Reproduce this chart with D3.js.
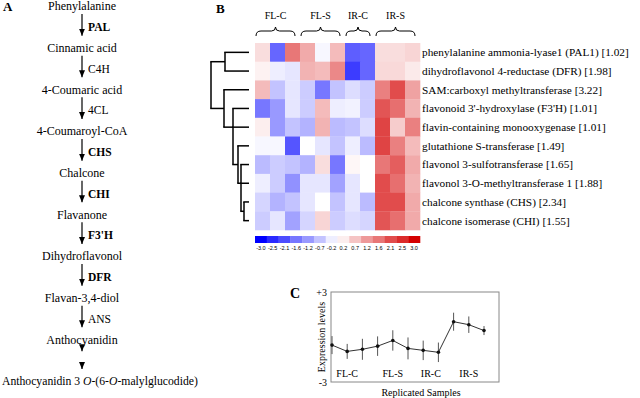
<!DOCTYPE html>
<html>
<head>
<meta charset="utf-8">
<script src="https://cdn.jsdelivr.net/npm/d3@7"></script>
<style>
  body { margin: 0; background: #fff; }
  svg { display: block; }
</style>
</head>
<body>
<div id="fig"></div>
<script>
// ---- panel A: pathway
const compounds = ["Phenylalanine", "Cinnamic acid", "4-Coumaric acid", "4-Coumaroyl-CoA", "Chalcone",
  "Flavanone", "Dihydroflavonol", "Flavan-3,4-diol", "Anthocyanidin", "Anthocyanidin 3 O-(6-O-malylglucodide)"];
const enzymes = ["PAL", "C4H", "4CL", "CHS", "CHI", "F3'H", "DFR", "ANS", ""];
const enzymeBold = [true, false, false, true, true, true, true, false, false];
const arrowsPerStep = [1, 1, 1, 1, 1, 1, 1, 1, 2];

// ---- panel B: heatmap
const genes = ["phenylalanine ammonia-lyase1 (PAL1)", "dihydroflavonol 4-reductase (DFR)",
  "SAM:carboxyl methyltransferase", "flavonoid 3'-hydroxylase (F3'H)", "flavin-containing monooxygenase",
  "glutathione S-transferase", "flavonol 3-sulfotransferase", "flavonol 3-O-methyltransferase 1",
  "chalcone synthase (CHS)", "chalcone isomerase (CHI)"];
const foldChange = ["1.02", "1.98", "3.22", "1.01", "1.01", "1.49", "1.65", "1.88", "2.34", "1.55"];
const groups = ["FL-C", "FL-S", "IR-C", "IR-S"];
const groupReps = [3, 3, 2, 3];

const rowPAL   = [0.4, -1.8, 1.6, 1.0, -0.1, 0.8, -1.9, -1.8, 0.4, 0.4, 0.5];
const rowDFR   = [0.15, -0.2, -0.3, 0.9, 0.8, 1.4, -2.3, -1.8, 0.45, 0.45, 0.25];
const rowSAM   = [0.8, -0.7, -0.3, -0.6, -1.6, -0.7, -0.4, -0.6, 1.5, 2.1, 1.1];
const rowF3H   = [-1.6, -1.2, -0.3, -0.6, 0.8, -0.2, -0.15, -0.6, 2.0, 1.7, 0.9];
const rowFMO   = [0.2, -1.2, -0.7, -0.9, 0.9, -0.8, -0.7, -0.4, 2.2, 0.6, 1.5];
const rowGST   = [-0.1, -0.1, -2.0, 0.0, -0.3, -0.7, -0.2, -0.8, 2.2, 1.5, 0.8];
const rowSULF  = [-0.8, -0.6, -0.7, -0.9, 0.4, -1.6, 0.1, 0.0, 1.6, 1.9, 1.0];
const rowOMT   = [-0.2, -0.6, -1.3, -0.3, -0.3, -1.1, -0.3, 0.0, 2.1, 1.7, 0.9];
const rowCHS   = [-0.5, -0.9, -0.7, -0.3, 0.0, -0.7, -0.3, -0.8, 2.1, 2.1, 1.0];
const rowCHI   = [-0.6, -0.3, -1.1, -0.5, 0.5, -0.6, -0.4, -0.5, 2.0, 1.7, 1.0];
const heatRows = [rowPAL, rowDFR, rowSAM, rowF3H, rowFMO, rowGST, rowSULF, rowOMT, rowCHS, rowCHI];

const legendTicks = [-3.0, -2.5, -2.1, -1.6, -1.2, -0.7, -0.2, 0.2, 0.7, 1.2, 1.6, 2.1, 2.5, 3.0];

// row dendrogram (leaves = gene index, h = merge height)
const dendro = { h: 38, c: [
  { h: 24, c: [0, 1] },
  { h: 25, c: [2, { h: 16, c: [3, 4, { h: 11, c: [5, { h: 8, c: [6, 7, { h: 5, c: [8, 9] }] }] }] }] }
] };

// ---- panel C: profile
const profileMean = [-0.54, -0.96, -0.82, -0.61, -0.23, -0.76, -0.89, -1.02, 1.02, 0.82, 0.43];
const profileErr  = [0.6, 0.5, 0.7, 0.65, 0.68, 0.73, 0.65, 0.65, 0.6, 0.55, 0.3];

const serif = "'Liberation Serif', 'Times New Roman', serif";

const svg = d3.select("#fig").append("svg")
  .attr("width", 640).attr("height", 398)
  .style("font-family", serif);

svg.append("defs").append("marker")
  .attr("id", "head")
  .attr("viewBox", "0 0 6 7").attr("refX", 3).attr("refY", 7)
  .attr("markerWidth", 6).attr("markerHeight", 7)
  .attr("markerUnits", "userSpaceOnUse")
  .attr("orient", "0")
  .append("path").attr("d", "M0,0 L6,0 L3,7 Z").attr("fill", "#000");

// shrink/grow a text so it spans a given width
function fitWidth(sel, target) {
  const w = sel.node().getComputedTextLength();
  const fs = +sel.attr("font-size");
  if (w > 0) sel.attr("font-size", fs * target / w);
  return fs * target / w;
}

// ================= A =================
const gA = svg.append("g");
gA.append("text").attr("x", 3).attr("y", 11).attr("font-weight", "bold").attr("font-size", 13).text("A");

const cx = 82;
const yA = d3.scalePoint().domain(d3.range(compounds.length)).range([6, 381]);
const last = compounds.length - 1;

compounds.forEach((name, i) => {
  const t = gA.append("text")
    .attr("x", i === last ? 2 : cx).attr("y", yA(i)).attr("dy", "0.35em")
    .attr("text-anchor", i === last ? "start" : "middle").attr("font-size", 12);
  name.split(/(O(?=-))/).forEach(part => {
    if (!part) return;
    t.append("tspan").attr("font-style", part === "O" ? "italic" : null).text(part);
  });
  if (i === last) fitWidth(t, 196);
});

enzymes.forEach((e, i) => {
  const n = arrowsPerStep[i];
  const y0 = yA(i) + 8, y1 = yA(i + 1) - 5;
  const gap = 7;
  const len = (y1 - y0 - gap * (n - 1)) / n;
  for (let k = 0; k < n; k++) {
    const a = y0 + k * (len + gap);
    gA.append("line").attr("x1", cx).attr("x2", cx).attr("y1", a).attr("y2", a + len - 7)
      .attr("stroke", "#000").attr("stroke-width", 1.2).attr("marker-end", "url(#head)");
  }
  if (e) {
    gA.append("text").attr("x", cx + 6).attr("y", (yA(i) + yA(i + 1)) / 2).attr("dy", "0.35em")
      .attr("font-size", 11.5).attr("font-weight", enzymeBold[i] ? "bold" : null).text(e);
  }
});

// ================= B =================
const gB = svg.append("g");
gB.append("text").attr("x", 216).attr("y", 13).attr("font-weight", "bold").attr("font-size", 13).text("B");

const nCols = d3.sum(groupReps);
const xH = d3.scaleBand().domain(d3.range(nCols)).range([255, 420]);
const yH = d3.scaleBand().domain(d3.range(genes.length)).range([43, 230]);
const color = d3.scaleLinear().domain([-3, 0, 3]).range(["#0000ff", "#ffffff", "#d40000"]).clamp(true);

heatRows.forEach((row, r) => {
  gB.selectAll(null).data(row).join("rect")
    .attr("x", (d, c) => xH(c)).attr("y", yH(r))
    .attr("width", xH.bandwidth() + 0.3).attr("height", yH.bandwidth() + 0.3)
    .attr("fill", d => color(d));
});

const geneLabels = gB.selectAll(".gene").data(genes).join("text")
  .attr("class", "gene")
  .attr("x", 422).attr("y", (d, i) => yH(i) + yH.bandwidth() / 2).attr("dy", "0.35em")
  .attr("font-size", 11)
  .text((d, i) => `${d} [${foldChange[i]}]`);
// the first label reaches x ~630 in the figure
const geneFs = fitWidth(geneLabels.filter((d, i) => i === 0), 207);
geneLabels.attr("font-size", geneFs);

// group braces
let start = 0;
groups.forEach((g, gi) => {
  const x0 = xH(start) + 1;
  const x1 = xH(start + groupReps[gi] - 1) + xH.bandwidth() - 5;
  const m = (x0 + x1) / 2;
  const yb = 31;
  gB.append("path")
    .attr("d", `M${x0},${yb + 5} Q${x0},${yb} ${x0 + 5},${yb} L${m - 4},${yb} Q${m},${yb} ${m},${yb - 4} Q${m},${yb} ${m + 4},${yb} L${x1 - 5},${yb} Q${x1},${yb} ${x1},${yb + 5}`)
    .attr("fill", "none").attr("stroke", "#000").attr("stroke-width", 1);
  gB.append("text").attr("x", m).attr("y", 19).attr("text-anchor", "middle").attr("font-size", 10).text(g);
  start += groupReps[gi];
});

// dendrogram
const xD = d3.scaleLinear().domain([0, 38]).range([249, 211]);
function drawNode(node) {
  if (typeof node === "number") return { x: xD(0), y: yH(node) + yH.bandwidth() / 2 };
  const kids = node.c.map(drawNode);
  const x = xD(node.h);
  const ys = kids.map(k => k.y);
  const y = kids.length === 2 ? d3.mean(ys) : ys[Math.floor(kids.length / 2)];
  gB.append("line").attr("x1", x).attr("x2", x).attr("y1", d3.min(ys)).attr("y2", d3.max(ys))
    .attr("stroke", "#000").attr("stroke-width", 1.5);
  kids.forEach(k => {
    gB.append("line").attr("x1", x - 0.75).attr("x2", k.x).attr("y1", k.y).attr("y2", k.y)
      .attr("stroke", "#000").attr("stroke-width", 1.5);
  });
  return { x, y };
}
drawNode(dendro);

// colour key
const xL = d3.scaleBand().domain(d3.range(legendTicks.length)).range([255, 420]);
gB.selectAll(".key").data(legendTicks).join("rect")
  .attr("class", "key")
  .attr("x", (d, i) => xL(i)).attr("y", 236)
  .attr("width", xL.bandwidth() + 0.3).attr("height", 7)
  .attr("fill", d => color(d));
gB.selectAll(".keylab").data(legendTicks).join("text")
  .attr("class", "keylab")
  .attr("x", (d, i) => xL(i) + xL.bandwidth() / 2).attr("y", 250)
  .attr("text-anchor", "middle")
  .attr("font-family", "'Liberation Sans', Arial, sans-serif").attr("font-size", 5.5)
  .text(d => d.toFixed(1));

// ================= C =================
const gC = svg.append("g");
gC.append("text").attr("x", 290).attr("y", 298).attr("font-weight", "bold").attr("font-size", 14).text("C");

const box = { x0: 331, x1: 499, y0: 292, y1: 382 };
const xC = d3.scalePoint().domain(d3.range(profileMean.length)).range([332, 484]);
const yC = d3.scaleLinear().domain([-3, 3]).range([box.y1, box.y0]);

gC.append("rect").attr("x", box.x0).attr("y", box.y0)
  .attr("width", box.x1 - box.x0).attr("height", box.y1 - box.y0)
  .attr("fill", "none").attr("stroke", "#888").attr("stroke-width", 1);

gC.append("text").attr("x", 327).attr("y", yC(3)).attr("dy", "0.35em")
  .attr("text-anchor", "end").attr("font-size", 10).text("+3");
gC.append("text").attr("x", 327).attr("y", yC(-3)).attr("dy", "0.35em")
  .attr("text-anchor", "end").attr("font-size", 10).text("-3");

gC.append("text")
  .attr("transform", `translate(325,${(box.y0 + box.y1) / 2}) rotate(-90)`)
  .attr("text-anchor", "middle").attr("font-size", 10).text("Expression levels");

gC.append("text").attr("x", 421).attr("y", 396).attr("text-anchor", "middle")
  .attr("font-size", 10).text("Replicated Samples");

gC.selectAll(".err").data(profileMean).join("line")
  .attr("class", "err")
  .attr("x1", (d, i) => xC(i)).attr("x2", (d, i) => xC(i))
  .attr("y1", (d, i) => yC(d + profileErr[i])).attr("y2", (d, i) => yC(d - profileErr[i]))
  .attr("stroke", "#555").attr("stroke-width", 1);

gC.append("path").datum(profileMean)
  .attr("d", d3.line().x((d, i) => xC(i)).y(d => yC(d)))
  .attr("fill", "none").attr("stroke", "#333").attr("stroke-width", 1);

gC.selectAll(".pt").data(profileMean).join("circle")
  .attr("class", "pt")
  .attr("cx", (d, i) => xC(i)).attr("cy", d => yC(d)).attr("r", 1.8).attr("fill", "#111");

let s0 = 0;
groups.forEach((g, gi) => {
  const idx = d3.range(s0, s0 + groupReps[gi]);
  gC.append("text").attr("x", d3.mean(idx, i => xC(i))).attr("y", 377)
    .attr("text-anchor", "middle").attr("font-size", 10).text(g);
  s0 += groupReps[gi];
});
</script>
</body>
</html>
